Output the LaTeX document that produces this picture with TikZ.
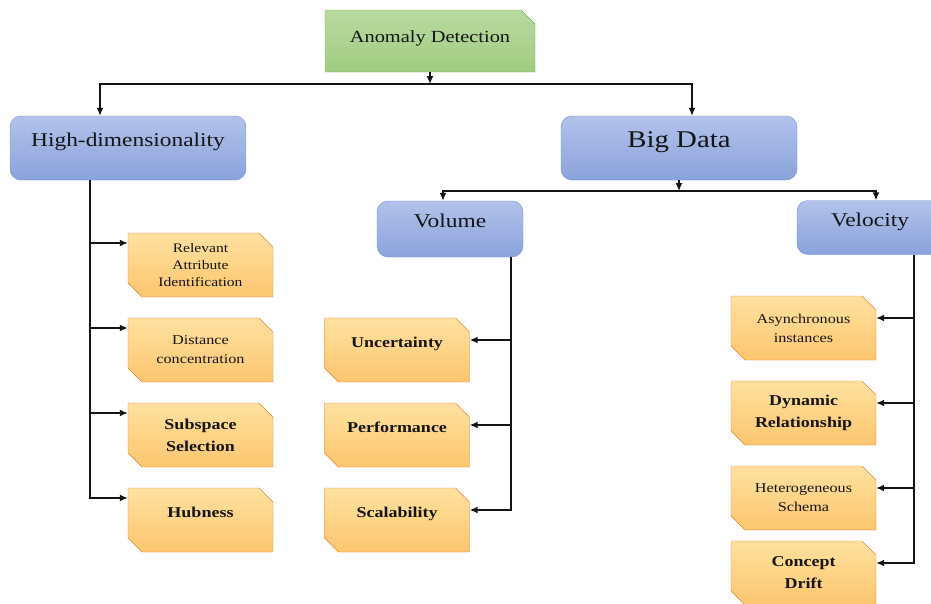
\documentclass[tikz,border=0pt]{standalone}
\usepackage{fontspec}
\setmainfont{Liberation Serif}[FakeStretch=1.2]
\usepackage{tikz}
\usetikzlibrary{arrows,arrows.meta,shapes,positioning}

\definecolor{ink}{RGB}{20,20,20}
\definecolor{roottop}{RGB}{185,218,160}
\definecolor{rootbot}{RGB}{160,204,128}
\definecolor{rootline}{RGB}{120,178,80}
\definecolor{topictop}{RGB}{178,194,234}
\definecolor{topicbot}{RGB}{138,163,220}
\definecolor{topicline}{RGB}{112,146,214}
\definecolor{leaftop}{RGB}{255,225,160}
\definecolor{leafbot}{RGB}{252,198,110}
\definecolor{leafline}{RGB}{232,128,50}

\begin{document}
\begin{tikzpicture}
	[x=1pt,y=-1pt,
	 root/.style={chamfered rectangle, chamfered rectangle corners=north east,
	   chamfered rectangle xsep=7pt, chamfered rectangle ysep=7pt,
	   draw=rootline, top color=roottop, bottom color=rootbot, text=ink,
	   inner sep=0pt, minimum width=210pt, minimum height=62pt, text depth=9pt,
	   font=\fontsize{17}{20}\selectfont},
	 topic/.style={rectangle, rounded corners=11pt, draw=topicline,
	   top color=topictop, bottom color=topicbot, text=ink, inner sep=0pt,
	   text depth=16pt, font=\fontsize{19.5}{22}\selectfont},
	 leaf/.style={chamfered rectangle, chamfered rectangle corners={north east,south west},
	   chamfered rectangle xsep=7pt, chamfered rectangle ysep=7pt,
	   draw=leafline, top color=leaftop, bottom color=leafbot, text=ink,
	   inner sep=0pt, minimum width=145pt, minimum height=64pt, align=center,
	   font=\fontsize{13.5}{19}\selectfont},
	 strong/.style={font=\fontsize{15}{22}\selectfont\bfseries},
	 single/.style={text depth=16pt},
	 link/.style={-{Latex[length=8pt,width=7pt]}, line width=1.4pt, draw=ink}]
	\clip (0,0) rectangle (931,603);

	% top levels
	\node[root] (ad) at (430,41) {Anomaly Detection};
	\node[topic, minimum width=236pt, minimum height=64pt] (hd) at (128,148) {High-dimensionality};
	\node[topic, minimum width=236pt, minimum height=64pt, font=\fontsize{24}{28}\selectfont, text depth=17pt] (bd) at (679,148) {Big Data};
	\node[topic, minimum width=146pt, minimum height=56pt] (vol) at (450,229) {Volume};
	\node[topic, minimum width=146pt, minimum height=54pt] (vel) at (870,227.5) {Velocity};

	% high-dimensionality leaves
	\node[leaf, font=\fontsize{13}{17}\selectfont] (rai) at (200.5,265) {Relevant\\Attribute\\Identification};
	\node[leaf] (dc) at (200.5,350) {Distance\\concentration};
	\node[leaf, strong] (ss) at (200.5,435) {Subspace\\Selection};
	\node[leaf, strong, single] (hub) at (200.5,520) {Hubness};

	% volume leaves
	\node[leaf, strong, single] (unc) at (397,350) {Uncertainty};
	\node[leaf, strong, single] (perf) at (397,435) {Performance};
	\node[leaf, strong, single] (scal) at (397,520) {Scalability};

	% velocity leaves
	\node[leaf] (asyn) at (803.5,328) {Asynchronous\\instances};
	\node[leaf, strong] (dyn) at (803.5,413) {Dynamic\\Relationship};
	\node[leaf] (het) at (803.5,498) {Heterogeneous\\Schema};
	\node[leaf, strong] (cd) at (803.5,573) {Concept\\Drift};

	% connectors
	\coordinate (topbar) at (430,84);
	\draw[link] (ad.south) -- (topbar);
	\draw[link] (topbar) -| ([xshift=-28pt]hd.north);
	\draw[link] (topbar) -| ([xshift=13pt]bd.north);

	\coordinate (databar) at (679,191);
	\draw[link] (bd.south) -- (databar);
	\draw[link] (databar) -| ([xshift=-7pt]vol.north);
	\draw[link] (databar) -| ([xshift=6pt]vel.north);

	\coordinate (hdtrunk) at ([xshift=-38pt]hd.south);
	\foreach \leafname in {rai,dc,ss,hub}
		\draw[link] (hdtrunk) |- ([yshift=22pt]\leafname.west);

	\coordinate (voltrunk) at ([xshift=61pt]vol.south);
	\foreach \leafname in {unc,perf,scal}
		\draw[link] (voltrunk) |- ([yshift=10pt]\leafname.east);

	\coordinate (veltrunk) at ([xshift=44pt]vel.south);
	\foreach \leafname in {asyn,dyn,het,cd}
		\draw[link] (veltrunk) |- ([yshift=10pt]\leafname.east);
\end{tikzpicture}
\end{document}
